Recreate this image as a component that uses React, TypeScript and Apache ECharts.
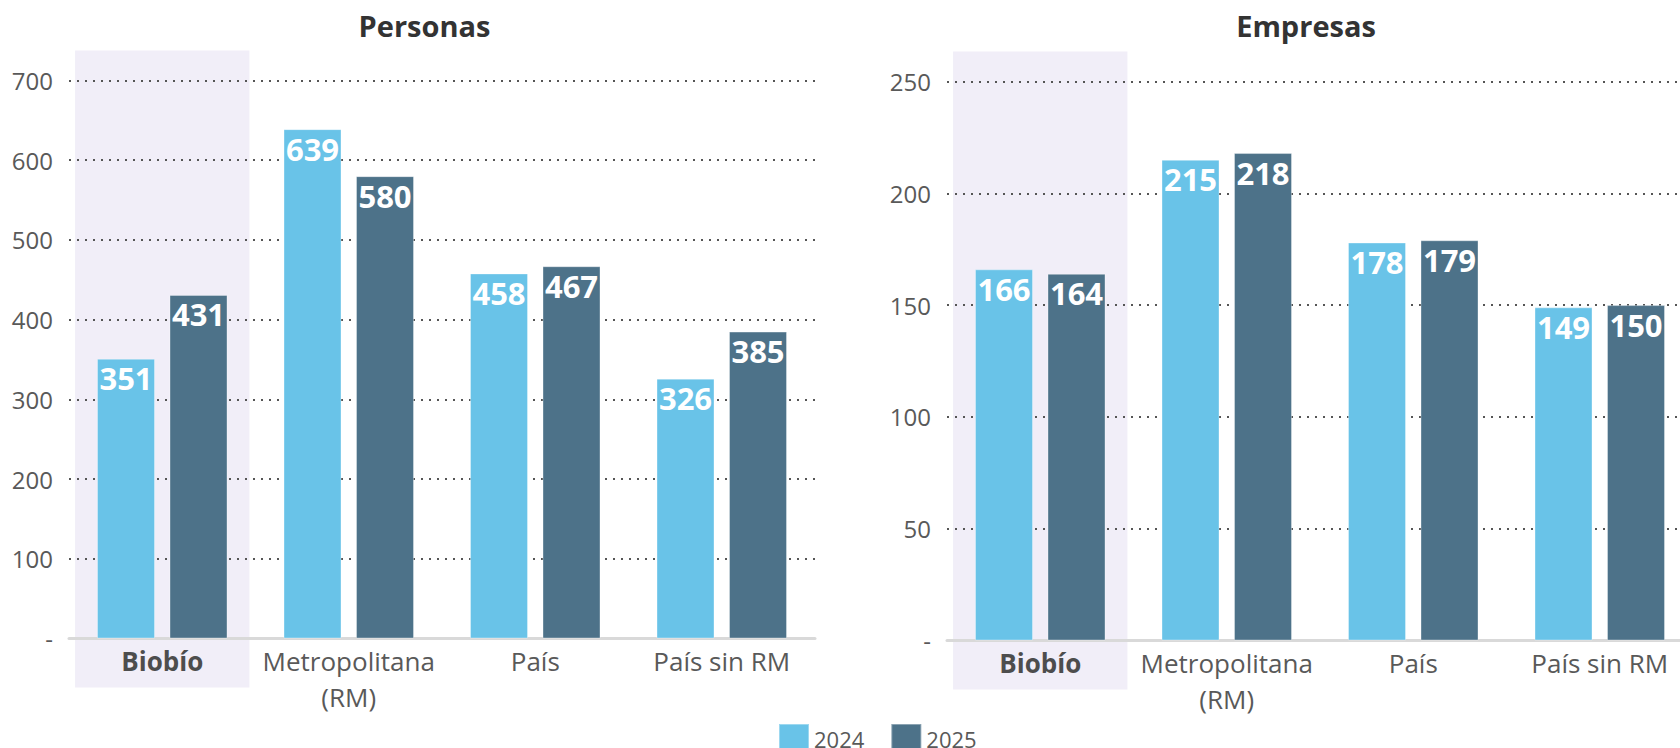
import React, { useEffect, useRef } from "react";
import * as echarts from "echarts";

const categories = ["Biobío", "Metropolitana\n(RM)", "País", "País sin RM"];
const seriesNames = ["2024", "2025"];
const personas2024 = [351, 639, 458, 326];
const personas2025 = [431, 580, 467, 385];
const empresas2024 = [166, 215, 178, 149];
const empresas2025 = [164, 218, 179, 150];
const chartTitles = ["Personas", "Empresas"];
const personasMax = 700;
const personasInterval = 100;
const empresasMax = 250;
const empresasInterval = 50;

const C2024 = "#69c3e8";
const C2025 = "#4d7289";
const FONT = "'Open Sans', 'Noto Sans', sans-serif";

function xAxisFor(gridIndex: number) {
  return {
    type: "category" as const,
    gridIndex,
    data: categories,
    axisTick: { show: false },
    axisLine: { show: true, lineStyle: { color: "#d9d9d9", width: 3 } },
    axisLabel: {
      interval: 0,
      margin: 4,
      fontSize: 26,
      lineHeight: 36,
      color: "#595959",
      fontFamily: FONT,
      formatter: (v: string, i: number) => (i === 0 ? `{b|${v}}` : v),
      rich: {
        b: {
          fontSize: 26,
          lineHeight: 36,
          fontWeight: "bold",
          color: "#4d4d4d",
          fontFamily: FONT,
        },
      },
    },
  };
}

function yAxisFor(gridIndex: number, max: number, interval: number) {
  return {
    type: "value" as const,
    gridIndex,
    min: 0,
    max,
    interval,
    axisLine: { show: false },
    axisTick: { show: false },
    axisLabel: {
      margin: 16,
      fontSize: 24,
      color: "#595959",
      fontFamily: FONT,
      formatter: (v: number) => (v === 0 ? "-" : String(v)),
    },
    splitLine: {
      show: true,
      lineStyle: { color: "#555", width: 2, type: [2, 6] },
    },
  };
}

function barSeries(name: string, data: number[], color: string, idx: number) {
  return {
    type: "bar" as const,
    name,
    data,
    xAxisIndex: idx,
    yAxisIndex: idx,
    barWidth: 58,
    barGap: "25%",
    itemStyle: {
      color,
      borderColor: "rgba(255,255,255,0.35)",
      borderWidth: 1,
    },
    label: {
      show: true,
      position: "insideTop",
      distance: 4,
      color: "#ffffff",
      fontSize: 31,
      lineHeight: 31,
      fontWeight: "bold",
      fontFamily: FONT,
    },
  };
}

export default function App() {
  const ref = useRef<HTMLDivElement>(null);

  useEffect(() => {
    document.body.style.margin = "0";
    if (!ref.current) return;
    const chart = echarts.init(ref.current, undefined, { renderer: "svg" });
    const titleStyle = { fontSize: 29, lineHeight: 30, fontWeight: "bold", color: "#333333", fontFamily: FONT };
    const option: any = {
      animation: false,
      backgroundColor: "#ffffff",
      textStyle: { fontFamily: FONT },
      title: [
        { text: chartTitles[0], left: 424.5, top: 10, textAlign: "center", padding: 0, textStyle: titleStyle },
        { text: chartTitles[1], left: 1306, top: 10, textAlign: "center", padding: 0, textStyle: titleStyle },
      ],
      legend: {
        data: seriesNames,
        left: 778,
        top: 723,
        padding: 0,
        itemWidth: 30,
        itemHeight: 30,
        itemGap: 26,
        icon: "rect",
        textStyle: { fontSize: 22, color: "#595959", fontFamily: FONT },
      },
      grid: [
        { left: 69, top: 80.5, width: 746, height: 558, containLabel: false, outerBoundsMode: "none" },
        { left: 947, top: 81.5, width: 746, height: 559, containLabel: false, outerBoundsMode: "none" },
      ],
      xAxis: [xAxisFor(0), xAxisFor(1)],
      yAxis: [
        yAxisFor(0, personasMax, personasInterval),
        yAxisFor(1, empresasMax, empresasInterval),
      ],
      series: [
        barSeries(seriesNames[0], personas2024, C2024, 0),
        barSeries(seriesNames[1], personas2025, C2025, 0),
        barSeries(seriesNames[0], empresas2024, C2024, 1),
        barSeries(seriesNames[1], empresas2025, C2025, 1),
      ],
    };
    chart.setOption(option);

    const rects: any[] = [];
    const maxes = [personasMax, empresasMax];
    for (let g = 0; g < 2; g++) {
      const c0 = chart.convertToPixel({ xAxisIndex: g } as any, 0) as unknown as number;
      const c1 = chart.convertToPixel({ xAxisIndex: g } as any, 1) as unknown as number;
      const band = c1 - c0;
      const w = band * 0.935;
      const yTop = (chart.convertToPixel({ yAxisIndex: g } as any, maxes[g]) as unknown as number) - 30;
      const yBot = (chart.convertToPixel({ yAxisIndex: g } as any, 0) as unknown as number) + 49;
      rects.push({
        type: "rect",
        silent: true,
        z: -10,
        shape: { x: c0 - w / 2, y: yTop, width: w, height: yBot - yTop },
        style: { fill: "#f1eef8" },
      });
    }
    chart.setOption({ graphic: rects });

    return () => chart.dispose();
  }, []);

  return <div ref={ref} style={{ width: 1680, height: 748 }} />;
}
